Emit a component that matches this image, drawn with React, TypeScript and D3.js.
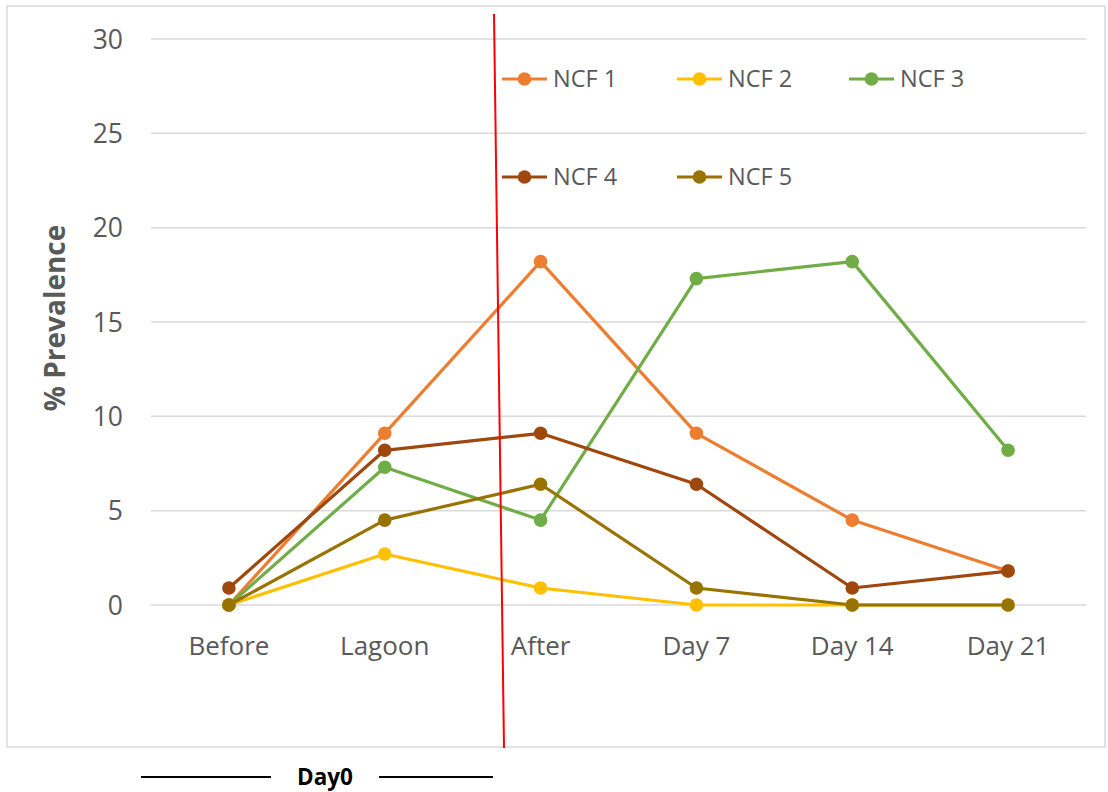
import React from "react";
import * as d3 from "d3";

// Sampling points along the x axis
const categories = ["Before", "Lagoon", "After", "Day 7", "Day 14", "Day 21"];

// % prevalence per sampling point for each NCF group
const ncf1 = [0, 9.1, 18.2, 9.1, 4.5, 1.8];
const ncf2 = [0, 2.7, 0.9, 0, 0, 0];
const ncf3 = [0, 7.3, 4.5, 17.3, 18.2, 8.2];
const ncf4 = [0.9, 8.2, 9.1, 6.4, 0.9, 1.8];
const ncf5 = [0, 4.5, 6.4, 0.9, 0, 0];

const seriesNames = ["NCF 1", "NCF 2", "NCF 3", "NCF 4", "NCF 5"];
const seriesValues = [ncf1, ncf2, ncf3, ncf4, ncf5];
const seriesColors = ["#ED7D31", "#FFC000", "#70AD47", "#9E480E", "#997300"];

const yTicks = [0, 5, 10, 15, 20, 25, 30];

const W = 1108;
const H = 792;
const FONT = "'Open Sans', sans-serif";
const TEXT = "#595959";

export default function App() {
  const x = d3.scaleBand<string>().domain(categories).range([151, 1086]);
  const y = d3.scaleLinear().domain([0, 30]).range([605, 39]);
  const cx = (c: string) => (x(c) as number) + x.bandwidth() / 2;

  const line = d3
    .line<number>()
    .x((_, i) => cx(categories[i]))
    .y((v) => y(v));

  // legend layout: two rows, three columns
  const legendCols = [502, 677, 849];
  const legendRows = [79, 177];

  return (
    <svg
      width={W}
      height={H}
      style={{ position: "absolute", left: 0, top: 0, background: "#fff" }}
    >
      {/* chart frame */}
      <rect x={7} y={6} width={1098} height={741} fill="#fff" stroke="#d9d9d9" strokeWidth={1.5} />

      {/* horizontal gridlines and y tick labels */}
      {yTicks.map((t) => (
        <g key={t}>
          <line x1={151} x2={1086} y1={y(t)} y2={y(t)} stroke="#d9d9d9" strokeWidth={1.5} />
          <text
            x={123}
            y={y(t)}
            dy="0.36em"
            textAnchor="end"
            fontFamily={FONT}
            fontSize={26.5}
            fill={TEXT}
          >
            {t}
          </text>
        </g>
      ))}

      {/* category labels */}
      {categories.map((c) => (
        <text
          key={c}
          x={cx(c)}
          y={646}
          dy="0.36em"
          textAnchor="middle"
          fontFamily={FONT}
          fontSize={26}
          fill={TEXT}
        >
          {c}
        </text>
      ))}

      {/* y axis title */}
      <text
        transform={`translate(55,318) rotate(-90)`}
        textAnchor="middle"
        dy="0.36em"
        fontFamily={FONT}
        fontWeight="bold"
        fontSize={28}
        fill={TEXT}
      >
        % Prevalence
      </text>

      {/* series lines and markers */}
      {seriesValues.map((vals, s) => (
        <g key={seriesNames[s]}>
          <path
            d={line(vals) as string}
            fill="none"
            stroke={seriesColors[s]}
            strokeWidth={3.2}
            strokeLinejoin="round"
          />
          {vals.map((v, i) => (
            <circle key={i} cx={cx(categories[i])} cy={y(v)} r={6.8} fill={seriesColors[s]} />
          ))}
        </g>
      ))}

      {/* legend */}
      {seriesNames.map((name, s) => {
        const lx = legendCols[s % 3];
        const ly = legendRows[Math.floor(s / 3)];
        return (
          <g key={name}>
            <line x1={lx} x2={lx + 45} y1={ly} y2={ly} stroke={seriesColors[s]} strokeWidth={3.2} />
            <circle cx={lx + 22.5} cy={ly} r={6.8} fill={seriesColors[s]} />
            <text
              x={lx + 51}
              y={ly}
              dy="0.36em"
              fontFamily={FONT}
              fontSize={23.5}
              fill={TEXT}
            >
              {name}
            </text>
          </g>
        );
      })}

      {/* Day 0 marker line */}
      <line x1={494} y1={14} x2={504} y2={748} stroke="#ff0000" strokeWidth={2} />

      {/* Day0 bracket below the chart */}
      <line x1={141} x2={271} y1={777} y2={777} stroke="#000" strokeWidth={2} />
      <line x1={379} x2={493} y1={777} y2={777} stroke="#000" strokeWidth={2} />
      <text
        x={325}
        y={777}
        dy="0.36em"
        textAnchor="middle"
        fontFamily={FONT}
        fontWeight="bold"
        fontSize={22.5}
        fill="#000"
      >
        Day0
      </text>
    </svg>
  );
}
